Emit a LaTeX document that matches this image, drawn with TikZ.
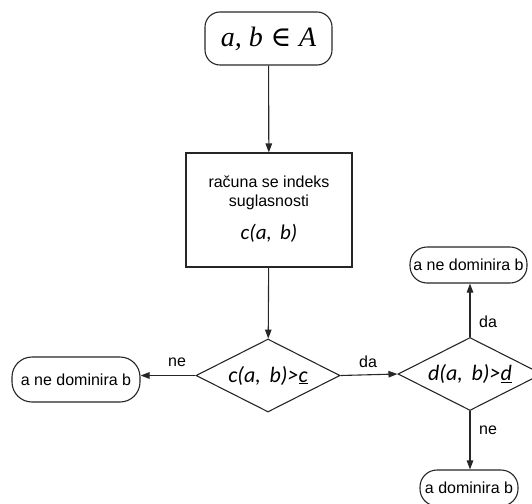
\documentclass[tikz,border=0pt]{standalone}
\usepackage{fontspec}
\setmainfont{Liberation Sans}
\newfontfamily\calfont{Carlito}
\newfontfamily\timesfont{Liberation Serif}
\newfontfamily\symfont{DejaVu Serif}
\usetikzlibrary{shapes.geometric,arrows.meta}
\begin{document}
\begin{tikzpicture}[x=1pt,y=-1pt,
  line/.style={draw=black!85, line width=1.1pt},
  arr/.style={line, -{Triangle[length=9pt,width=6.5pt]}},
  txt/.style={font=\fontsize{16}{19}\selectfont, inner sep=0pt},
  pill/.style={line, txt, fill=white, rounded corners=#1},
  dec/.style={line, diamond, aspect=2, inner sep=0pt, minimum width=144pt, minimum height=73pt, font=\calfont\itshape\fontsize{22}{24}\selectfont},
  mathit/.style={font=\calfont\itshape\fontsize{21}{23}\selectfont, inner sep=0pt}]
\useasboundingbox (0,0) rectangle (532,503);
\clip (0,0) rectangle (532,503);
% start
\node[line, rounded corners=15pt, minimum width=127pt, minimum height=53pt, inner sep=0pt] (top) at (268.5,38.5)
  {\fontsize{28}{30}\selectfont{\timesfont\itshape a, b} {\symfont ∈} {\timesfont\itshape A}};
% process
\node[line, minimum width=166pt, minimum height=114pt, inner sep=0pt] (calc) at (269,210) {};
\node[txt, align=center] (calctext) at (269,193) {računa se indeks\\suglasnosti};
\node[mathit] (cab) at (269,233) {c(a,\, b)};
% decisions
\node[dec] (d1) at (268,375.5) {c(a,\, b)>\underline{c}};
\node[dec] (d2) at (470,374) {d(a,\, b)>\underline{d}};
% terminals
\node[pill=20pt, minimum width=128pt, minimum height=45pt] (lb) at (76,379.5) {a ne dominira b};
\node[pill=17pt, minimum width=117pt, minimum height=36pt] (rt) at (468.5,265) {a ne dominira b};
\node[pill=17pt, minimum width=98pt, minimum height=36pt] (rb) at (469,488) {a dominira b};
% connectors
\draw[arr] (top) -- (calc);
\draw[arr] (calc) -- (d1);
\draw[arr] (d1.west) -- (d1.west -| lb.east);
\draw[arr] (d1.east) -- (d2.west);
\draw[arr] (d2.north) -- (d2.north |- rt.south);
\draw[arr] (d2.south) -- (d2.south |- rb.north);
% labels
\node[txt] (l1) at (177,362) {ne};
\node[txt] (l2) at (368,362) {da};
\node[txt] (l3) at (488,322) {da};
\node[txt] (l4) at (488,430) {ne};
\end{tikzpicture}
\end{document}
